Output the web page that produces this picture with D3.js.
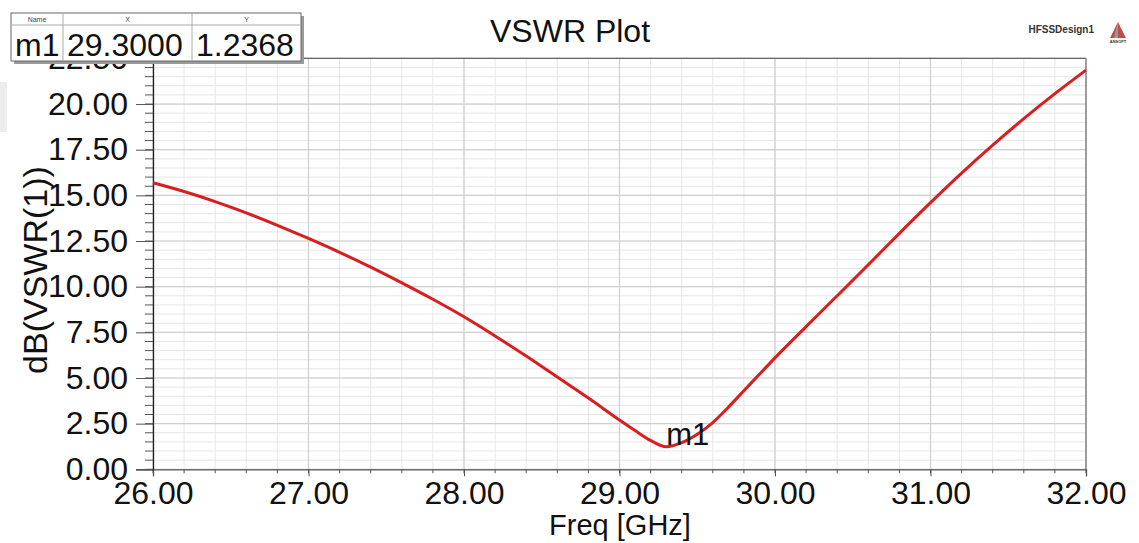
<!DOCTYPE html>
<html lang="en">
<head>
    <meta charset="UTF-8">
    <title>VSWR Plot</title>
    <script src="https://cdnjs.cloudflare.com/ajax/libs/d3/7.8.5/d3.min.js"></script>
    <style>
      body { margin: 0; background: #fff; font-family: "Liberation Sans", Arial, sans-serif; }
    </style>
</head>
<body>
    <div id="chart"></div>
    <script>
        const width = 1139;
        const height = 543;

        // values
        const freq = [26.0, 26.2, 26.4, 26.6, 26.8, 27.0, 27.2, 27.4, 27.6, 27.8, 28.0, 28.2, 28.4, 28.6, 28.8,
                      29.0, 29.1, 29.2, 29.3, 29.4, 29.5, 29.6, 29.7, 29.8, 29.9, 30.0, 30.2, 30.4, 30.6, 30.8,
                      31.0, 31.2, 31.4, 31.6, 31.8, 32.0];
        const vswrDb = [15.69, 15.21, 14.66, 14.04, 13.36, 12.64, 11.88, 11.07, 10.21, 9.31, 8.35, 7.30, 6.20, 5.05, 3.90,
                        2.70, 2.12, 1.58, 1.2368, 1.46, 1.92, 2.56, 3.40, 4.30, 5.21, 6.10, 7.81, 9.50, 11.20, 12.92,
                        14.60, 16.22, 17.75, 19.20, 20.57, 21.86];
        const xTicks = [26, 27, 28, 29, 30, 31, 32];
        const yTicks = [0, 2.5, 5, 7.5, 10, 12.5, 15, 17.5, 20, 22.5];
        const markerName = "m1";
        const markerX = 29.3;
        const markerY = 1.2368;

        const pLeft = 153, pRight = 1086, pTop = 58.4, pBottom = 469.3;

        const x = d3.scaleLinear().domain([26, 32]).range([pLeft, pRight]);
        const y = d3.scaleLinear().domain([0, 22.5]).range([pBottom, pTop]);

        const svg = d3.select('#chart').append('svg')
            .attr('width', width).attr('height', height)
            .style('font-family', '"Liberation Sans", Arial, sans-serif');

        // faint block at the left edge
        svg.append('rect').attr('x', 0).attr('y', 82).attr('width', 7).attr('height', 50).attr('fill', '#ececec');

        // grid
        const xMinor = d3.range(26, 32.001, 0.2);
        const yMinor = d3.range(0, 22.501, 0.5);
        const grid = svg.append('g');
        grid.append('g').selectAll('line').data(xMinor).join('line')
            .attr('x1', d => x(d)).attr('x2', d => x(d)).attr('y1', pTop).attr('y2', pBottom)
            .attr('stroke', '#e6e6e6').attr('stroke-width', 1);
        grid.append('g').selectAll('line').data(yMinor).join('line')
            .attr('x1', pLeft).attr('x2', pRight).attr('y1', d => y(d)).attr('y2', d => y(d))
            .attr('stroke', '#e6e6e6').attr('stroke-width', 1);
        grid.append('g').selectAll('line').data(xTicks).join('line')
            .attr('x1', d => x(d)).attr('x2', d => x(d)).attr('y1', pTop).attr('y2', pBottom)
            .attr('stroke', '#cfcfcf').attr('stroke-width', 1.2);
        grid.append('g').selectAll('line').data(yTicks).join('line')
            .attr('x1', pLeft).attr('x2', pRight).attr('y1', d => y(d)).attr('y2', d => y(d))
            .attr('stroke', '#cfcfcf').attr('stroke-width', 1.2);

        // frame
        svg.append('line').attr('x1', pLeft).attr('x2', pRight).attr('y1', pTop).attr('y2', pTop)
            .attr('stroke', '#666').attr('stroke-width', 1.3);
        svg.append('line').attr('x1', pRight).attr('x2', pRight).attr('y1', pTop).attr('y2', pBottom)
            .attr('stroke', '#888').attr('stroke-width', 1.5);

        // axes
        const xAxis = d3.axisBottom(x).tickValues(xTicks).tickFormat(d3.format('.2f')).tickSize(7).tickPadding(5);
        const gx = svg.append('g').attr('transform', `translate(0,${pBottom})`).call(xAxis);
        gx.select('.domain').attr('stroke', '#555').attr('stroke-width', 1.3);
        gx.selectAll('.tick line').attr('stroke', '#555');
        gx.selectAll('text').attr('font-size', 32).attr('fill', '#111').attr('font-family', '"Liberation Sans", Arial, sans-serif');
        svg.append('g').selectAll('line').data(xMinor).join('line')
            .attr('x1', d => x(d)).attr('x2', d => x(d)).attr('y1', pBottom).attr('y2', pBottom + 4)
            .attr('stroke', '#555');

        const yAxis = d3.axisLeft(y).tickValues(yTicks).tickFormat(d3.format('.2f')).tickSize(17).tickPadding(8);
        const gy = svg.append('g').attr('transform', `translate(${pLeft},0)`).call(yAxis);
        gy.select('.domain').attr('stroke', '#222').attr('stroke-width', 1.3);
        gy.selectAll('.tick line').attr('stroke', '#555');
        gy.selectAll('text').attr('font-size', 32).attr('fill', '#111').attr('font-family', '"Liberation Sans", Arial, sans-serif');
        svg.append('g').selectAll('line').data(yMinor).join('line')
            .attr('x1', pLeft - 8).attr('x2', pLeft).attr('y1', d => y(d)).attr('y2', d => y(d))
            .attr('stroke', '#555');

        // curve
        const pts = freq.map((f, i) => [f, vswrDb[i]]);
        svg.append('path').datum(pts)
            .attr('d', d3.line().x(d => x(d[0])).y(d => y(d[1])).curve(d3.curveMonotoneX))
            .attr('fill', 'none').attr('stroke', '#d81e1e').attr('stroke-width', 3);

        // marker label
        svg.append('text').attr('x', x(markerX)).attr('y', y(markerY) - 2)
            .attr('font-size', 31).attr('fill', '#111').text(markerName);

        // titles
        svg.append('text').attr('x', 570).attr('y', 42).attr('text-anchor', 'middle')
            .attr('font-size', 32).attr('fill', '#111').text('VSWR Plot');
        svg.append('text').attr('x', 620).attr('y', 535).attr('text-anchor', 'middle')
            .attr('font-size', 29).attr('fill', '#111').text('Freq [GHz]');
        svg.append('text').attr('transform', 'translate(47,270) rotate(-90)').attr('text-anchor', 'middle')
            .attr('font-size', 34).attr('fill', '#111').text('dB(VSWR(1))');

        // design name + logo
        svg.append('text').attr('x', 1094).attr('y', 33).attr('text-anchor', 'end')
            .attr('font-size', 10).attr('font-weight', 'bold').attr('fill', '#333').text('HFSSDesign1');
        svg.append('path').attr('d', 'M1118,22 L1110,38 L1126,38 Z').attr('fill', '#b85050');
        svg.append('path').attr('d', 'M1118,22 L1114,38 L1118,38 Z').attr('fill', '#999');
        svg.append('text').attr('x', 1118).attr('y', 43).attr('text-anchor', 'middle')
            .attr('font-size', 4).attr('font-weight', 'bold').attr('fill', '#333').text('ANSOFT');

        // marker table (drawn over the 22.50 label, as in the original)
        const cols = [{h: 'Name', v: markerName, x0: 11, x1: 63},
                      {h: 'X', v: d3.format('.4f')(markerX), x0: 63, x1: 192},
                      {h: 'Y', v: d3.format('.4f')(markerY), x0: 192, x1: 301}];
        const tb = svg.append('g');
        tb.append('rect').attr('x', 14).attr('y', 16).attr('width', 290).attr('height', 48).attr('fill', '#9a9a9a');
        tb.append('rect').attr('x', 11).attr('y', 13).attr('width', 290).attr('height', 48)
            .attr('fill', '#fff').attr('stroke', '#666').attr('stroke-width', 1);
        tb.append('line').attr('x1', 11).attr('x2', 301).attr('y1', 25).attr('y2', 25).attr('stroke', '#aaa');
        tb.append('g').selectAll('line').data(cols.slice(1)).join('line')
            .attr('x1', d => d.x0).attr('x2', d => d.x0).attr('y1', 13).attr('y2', 61).attr('stroke', '#aaa');
        tb.append('g').selectAll('text').data(cols).join('text')
            .attr('x', d => (d.x0 + d.x1) / 2).attr('y', 22).attr('text-anchor', 'middle')
            .attr('font-size', 7).attr('fill', '#444').text(d => d.h);
        tb.append('g').selectAll('text').data(cols).join('text')
            .attr('x', d => d.x0 + 4).attr('y', 56)
            .attr('font-size', 32).attr('fill', '#111').text(d => d.v);
    </script>
</body>
</html>
